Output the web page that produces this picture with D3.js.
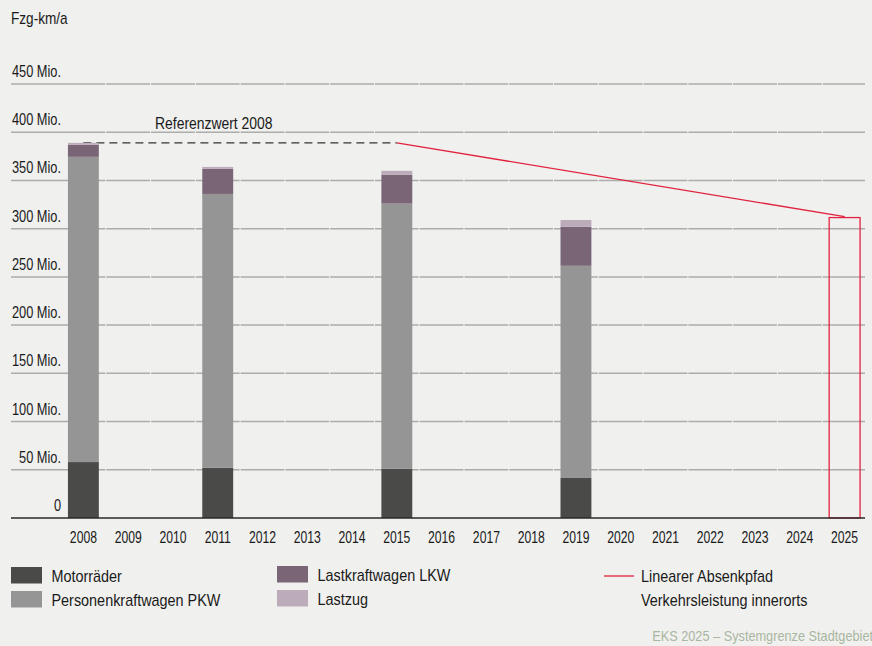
<!DOCTYPE html>
<html>
<head>
<meta charset="utf-8">
<script src="https://cdn.jsdelivr.net/npm/d3@7"></script>
<style>
  html, body { margin: 0; padding: 0; background: #f0f0ee; }
  svg { display: block; font-family: "Liberation Sans", Arial, sans-serif; }
</style>
</head>
<body>
<svg id="chart" width="872" height="646"></svg>
<script>
// Years on the x axis
const years = ["2008","2009","2010","2011","2012","2013","2014","2015","2016","2017","2018","2019","2020","2021","2022","2023","2024","2025"];
// Years with measured traffic volume
const dataYears = ["2008","2011","2015","2019"];
// Vehicle-km per year (Mio.) by vehicle class
const motorraeder = [58, 52, 51, 41.5];
const pkw = [316.5, 284, 275, 220];
const lkw = [12.5, 26, 30, 40.5];
const lastzug = [2, 2, 4, 7];
// Reference value 2008 and linear reduction path
const referenzwert = 389;
const referenzBis = "2015";
const zielJahr = "2025";
const zielWert = 311.5;
// Y axis ticks
const yTicks = [0, 50, 100, 150, 200, 250, 300, 350, 400, 450];
const yTickLabels = ["0", "50 Mio.", "100 Mio.", "150 Mio.", "200 Mio.", "250 Mio.", "300 Mio.", "350 Mio.", "400 Mio.", "450 Mio."];

const seriesNames = ["Motorräder", "Personenkraftwagen PKW", "Lastkraftwagen LKW", "Lastzug"];
const seriesColors = ["#4a4a48", "#959595", "#7a6577", "#bcacba"];
const red = "#e2233f";
const ink = "#1a1a1a";

const svg = d3.select("#chart");

// Condensed look: text is drawn at its anchor and squeezed horizontally
function condensed(sel, fx, fy, sx) {
  return sel.attr("x", 0).attr("y", 0)
    .attr("transform", (d, i) => `translate(${fx(d, i)},${fy(d, i)}) scale(${sx},1)`);
}

const x = d3.scaleBand().domain(years).range([61, 867]).paddingInner(0.31).paddingOuter(0.155);
const y = d3.scaleLinear().domain([0, 450]).range([518, 84]);

const gridLeft = 11, gridRight = 865;

// Gridlines
svg.append("g").selectAll("line")
  .data(yTicks.filter(d => d > 0))
  .join("line")
  .attr("x1", gridLeft).attr("x2", gridRight)
  .attr("y1", d => y(d)).attr("y2", d => y(d))
  .attr("stroke", "#acacaa").attr("stroke-width", 1.5);

// Faint separators between year slots
svg.append("g").selectAll("line")
  .data(years.slice(1))
  .join("line")
  .attr("x1", d => x(d) - x.step() * x.paddingInner() / 2)
  .attr("x2", d => x(d) - x.step() * x.paddingInner() / 2)
  .attr("y1", y(450) - 1).attr("y2", y(0))
  .attr("stroke", "#f0f0ee").attr("stroke-width", 1);

// Y tick labels, sitting above each gridline
condensed(svg.append("g").selectAll("text")
  .data(yTicks)
  .join("text"), () => 61, d => y(d) - 7, 0.8)
  .attr("text-anchor", "end")
  .attr("font-size", 16)
  .attr("fill", ink)
  .text((d, i) => yTickLabels[i]);

condensed(svg.append("text"), () => 11, () => 24, 0.85)
  .attr("font-size", 16).attr("fill", ink)
  .text("Fzg-km/a");

// Reference dashed line 2008
svg.append("line")
  .attr("x1", x("2008") + x.bandwidth() / 2)
  .attr("x2", x(referenzBis) + x.bandwidth() / 2)
  .attr("y1", y(referenzwert)).attr("y2", y(referenzwert))
  .attr("stroke", "#333").attr("stroke-width", 1.2)
  .attr("stroke-dasharray", "8,5");

condensed(svg.append("text"), () => 155, () => y(referenzwert) - 14, 0.87)
  .attr("font-size", 16).attr("fill", ink)
  .text("Referenzwert 2008");

// Stacked bars
const rows = dataYears.map((yr, i) => ({
  year: yr,
  "Motorräder": motorraeder[i],
  "Personenkraftwagen PKW": pkw[i],
  "Lastkraftwagen LKW": lkw[i],
  "Lastzug": lastzug[i]
}));
const stacked = d3.stack().keys(seriesNames)(rows);

svg.append("g").selectAll("g")
  .data(stacked)
  .join("g")
  .attr("fill", (d, i) => seriesColors[i])
  .selectAll("rect")
  .data(d => d)
  .join("rect")
  .attr("x", d => x(d.data.year))
  .attr("width", x.bandwidth())
  .attr("y", d => y(d[1]))
  .attr("height", d => y(d[0]) - y(d[1]));

// Linear reduction path
svg.append("line")
  .attr("x1", x(referenzBis) + x.bandwidth() / 2)
  .attr("y1", y(referenzwert))
  .attr("x2", x(zielJahr) + x.bandwidth() / 2)
  .attr("y2", y(zielWert) - 1)
  .attr("stroke", red).attr("stroke-width", 1.3);

// Target box 2025
svg.append("rect")
  .attr("x", x(zielJahr))
  .attr("width", x.bandwidth())
  .attr("y", y(zielWert))
  .attr("height", y(0) - y(zielWert))
  .attr("fill", "none")
  .attr("stroke", red).attr("stroke-width", 1.3);

// Baseline
svg.append("line")
  .attr("x1", gridLeft).attr("x2", gridRight)
  .attr("y1", y(0)).attr("y2", y(0))
  .attr("stroke", "#2a2a2a").attr("stroke-width", 1.5);

// X axis labels
condensed(svg.append("g").selectAll("text")
  .data(years)
  .join("text"), d => x(d) + x.bandwidth() / 2, () => 542.5, 0.76)
  .attr("text-anchor", "middle")
  .attr("font-size", 16).attr("fill", ink)
  .text(d => d);

// Legend
const legendItems = [
  { name: seriesNames[0], color: seriesColors[0], lx: 11, ly: 567 },
  { name: seriesNames[1], color: seriesColors[1], lx: 11, ly: 591 },
  { name: seriesNames[2], color: seriesColors[2], lx: 277, ly: 566 },
  { name: seriesNames[3], color: seriesColors[3], lx: 277, ly: 590 }
];
const lg = svg.append("g");
legendItems.forEach(it => {
  lg.append("rect").attr("x", it.lx).attr("y", it.ly).attr("width", 31).attr("height", 16.5).attr("fill", it.color);
  condensed(lg.append("text"), () => it.lx + 40.5, () => it.ly + 15, 0.9)
    .attr("font-size", 16).attr("fill", ink).text(it.name);
});
lg.append("line").attr("x1", 604).attr("x2", 634).attr("y1", 576).attr("y2", 576)
  .attr("stroke", red).attr("stroke-width", 1.3);
condensed(lg.append("text"), () => 641, () => 582, 0.9)
  .attr("font-size", 16).attr("fill", ink).text("Linearer Absenkpfad");
condensed(lg.append("text"), () => 641, () => 606, 0.9)
  .attr("font-size", 16).attr("fill", ink).text("Verkehrsleistung innerorts");

// Source note
condensed(svg.append("text"), () => 873, () => 641, 0.91)
  .attr("text-anchor", "end")
  .attr("font-size", 14).attr("fill", "#a9b7a1")
  .text("EKS 2025 – Systemgrenze Stadtgebiet");
</script>
</body>
</html>
